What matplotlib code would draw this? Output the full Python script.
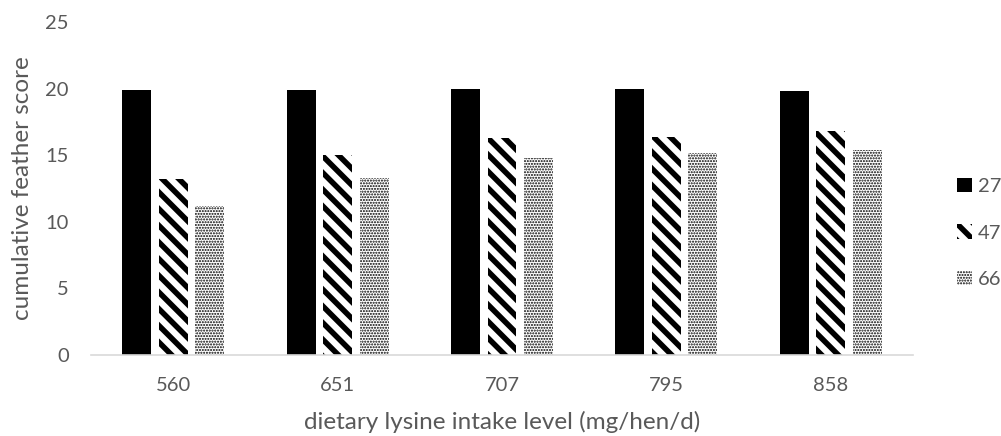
import matplotlib
matplotlib.use("Agg")
import matplotlib.pyplot as plt
import numpy as np

categories = ["560", "651", "707", "795", "858"]
series_names = ["27", "47", "66"]
values_27 = [19.9, 19.9, 20.0, 20.0, 19.8]
values_47 = [13.2, 15.0, 16.3, 16.4, 16.8]
values_66 = [11.2, 13.3, 14.8, 15.2, 15.4]
yticks = [0, 5, 10, 15, 20, 25]

plt.rcParams['font.family'] = ['Lato', 'DejaVu Sans']
plt.rcParams['hatch.color'] = 'black'
text_color = '#595959'

fig = plt.figure(figsize=(10.01, 4.36), dpi=100)
ax = fig.add_axes([0.0909, 0.1858, 0.8212, 0.7637])

x = np.arange(len(categories))
w = 0.176
gap = 0.046
offsets = [-(w + gap), 0, (w + gap)]

stripe_lw = 4.0
dot_lw = 1.0

b1 = ax.bar(x + offsets[0], values_27, w, color='black', edgecolor='black', linewidth=0, label=series_names[0])
with plt.rc_context({'hatch.linewidth': stripe_lw}):
    b2 = ax.bar(x + offsets[1], values_47, w, color='white', edgecolor='black', linewidth=0,
                hatch='\\\\', label=series_names[1])
with plt.rc_context({'hatch.linewidth': dot_lw}):
    b3 = ax.bar(x + offsets[2], values_66, w, color='white', edgecolor='black', linewidth=0,
                hatch='......', label=series_names[2])
for bars, lw in ((b2, stripe_lw), (b3, dot_lw)):
    for p in bars:
        p.set_hatch_linewidth(lw)

ax.set_xlim(-0.5, len(categories) - 0.5)
ax.set_ylim(0, 25)
ax.set_yticks(yticks)
ax.set_xticks(x)
ax.set_xticklabels(categories)
for s in ['top', 'right', 'left']:
    ax.spines[s].set_visible(False)
ax.spines['bottom'].set_color('#D9D9D9')
ax.spines['bottom'].set_linewidth(1.2)
ax.tick_params(axis='both', length=0, labelsize=14.5, colors=text_color)
ax.tick_params(axis='y', pad=16)
ax.tick_params(axis='x', pad=16)

ax.set_ylabel('cumulative feather score', fontsize=17.5, color=text_color, labelpad=9)
ax.set_xlabel('dietary lysine intake level (mg/hen/d)', fontsize=17.5, color=text_color, labelpad=12)

leg = fig.legend(handles=[b1, b2, b3], labels=series_names, loc='center left',
                 bbox_to_anchor=(0.948, 0.466), frameon=False, fontsize=14.5,
                 handlelength=0.75, handleheight=0.75, handletextpad=0.3,
                 labelspacing=1.45, borderaxespad=0)
for t in leg.get_texts():
    t.set_color(text_color)
hs = leg.legend_handles
hs[1].set_hatch_linewidth(stripe_lw)
hs[2].set_hatch_linewidth(dot_lw)

fig.savefig('out.png', dpi=100)
